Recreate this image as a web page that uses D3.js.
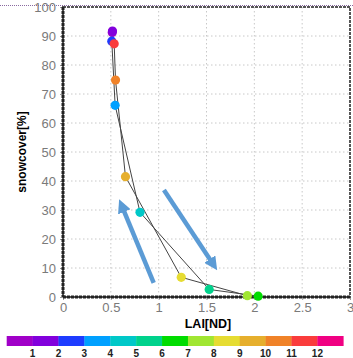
<!DOCTYPE html>
<html><head><meta charset="utf-8">
<script src="https://cdn.jsdelivr.net/npm/d3@7"></script>
<style>html,body{margin:0;padding:0;background:#fff;overflow:hidden}</style>
</head><body>
<svg id="c" width="353" height="358"></svg>
<script>
// Data (months 1..12)
const months = [1,2,3,4,5,6,7,8,9,10,11,12];
const lai  = [0.515,0.517,0.51,0.545,0.805,1.528,2.04,1.927,1.236,0.653,0.549,0.535];
const snow = [91.2,91.7,88.2,66.1,29.2,2.6,0.3,0.45,6.8,41.5,74.8,87.3];
const xTicks = [0,0.5,1,1.5,2,2.5,3];
const yTicks = [0,10,20,30,40,50,60,70,80,90,100];
const cbLabels = [1,2,3,4,5,6,7,8,9,10,11,12];
const cbColors = ["#a000c8","#8200dc","#1e3cff","#00a0ff","#00c8c8","#00d28c","#00dc00","#a0e632","#e6dc32","#e6af2d","#f08228","#fa3c3c","#f00082"];
// arrows: [x1,y1,x2,y2] in data units (tail -> tip)
const arrows = [[0.948,4.9,0.594,33.1],[1.055,36.9,1.601,9.7]];

const svg = d3.select("#c");
const L=63, R=350, T=7, B=297;
const x = d3.scaleLinear().domain([0,3]).range([L,R]);
const y = d3.scaleLinear().domain([0,100]).range([B,T]);
const colorOf = m => cbColors[m-1];

// top dotted purple line
svg.append("line").attr("x1",0).attr("x2",353).attr("y1",5.5).attr("y2",5.5)
  .attr("stroke","#8a6aa0").attr("stroke-width",1).attr("stroke-dasharray","1,1");

// grid
const g = svg.append("g");
g.selectAll(".gx").data(xTicks.filter(d=>d>0&&d<3)).join("line")
  .attr("x1",d=>x(d)).attr("x2",d=>x(d)).attr("y1",T).attr("y2",B)
  .attr("stroke","#c8c8c8").attr("stroke-width",1).attr("stroke-dasharray","1.5,2.5");
g.selectAll(".gy").data(yTicks.filter(d=>d>0&&d<100)).join("line")
  .attr("x1",L).attr("x2",R).attr("y1",d=>y(d)).attr("y2",d=>y(d))
  .attr("stroke","#c8c8c8").attr("stroke-width",1).attr("stroke-dasharray","1.5,2.5");

// axes
const xAxis = d3.axisBottom(x).tickValues(xTicks).tickSize(3).tickPadding(3).tickFormat(d3.format("~g"));
const yAxis = d3.axisLeft(y).tickValues(yTicks).tickSize(3).tickPadding(4);
const ax = svg.append("g").attr("transform",`translate(0,${B})`).call(xAxis);
const ay = svg.append("g").attr("transform",`translate(${L},0)`).call(yAxis);
[ax,ay].forEach(a=>{
  a.select(".domain").remove();
  a.selectAll(".tick line").attr("stroke","#999");
  a.selectAll("text").attr("fill","#7a7a7a").style("font-family","'Liberation Sans',Arial,sans-serif").style("font-size","13px");
});

// frame
svg.append("rect").attr("x",L).attr("y",T).attr("width",R-L).attr("height",B-T)
  .attr("fill","none").attr("stroke","#555").attr("stroke-width",2).attr("stroke-dasharray","3,1");
svg.append("line").attr("x1",L).attr("x2",L).attr("y1",T).attr("y2",B).attr("stroke","#222").attr("stroke-width",3).attr("stroke-dasharray","3,1");
svg.append("line").attr("x1",L).attr("x2",R).attr("y1",B).attr("y2",B).attr("stroke","#222").attr("stroke-width",3).attr("stroke-dasharray","3,1");

// loop line
const pts = months.map((m,i)=>[lai[i],snow[i]]);
const line = d3.line().x(d=>x(d[0])).y(d=>y(d[1])).curve(d3.curveLinearClosed);
svg.append("path").attr("d",line(pts)).attr("fill","none").attr("stroke","#444").attr("stroke-width",1);

// arrows
const defs = svg.append("defs");
defs.append("marker").attr("id","ah").attr("viewBox","0 0 10 10").attr("refX",2).attr("refY",5)
  .attr("markerWidth",3).attr("markerHeight",3).attr("orient","auto")
  .append("path").attr("d","M0,0L10,5L0,10z").attr("fill","#5b9bd5");
svg.selectAll(".arr").data(arrows).join("line")
  .attr("x1",d=>x(d[0])).attr("y1",d=>y(d[1]))
  .attr("x2",d=>{const dx=x(d[2])-x(d[0]),dy=y(d[3])-y(d[1]),l=Math.hypot(dx,dy);return x(d[2])-dx/l*9;})
  .attr("y2",d=>{const dx=x(d[2])-x(d[0]),dy=y(d[3])-y(d[1]),l=Math.hypot(dx,dy);return y(d[3])-dy/l*9;})
  .attr("stroke","#5b9bd5").attr("stroke-width",4.5).attr("marker-end","url(#ah)");

// points
svg.selectAll(".pt").data(months).join("circle")
  .attr("cx",(m,i)=>x(lai[i])).attr("cy",(m,i)=>y(snow[i])).attr("r",4.6)
  .attr("fill",m=>colorOf(m));

// axis titles
svg.append("text").attr("x",208).attr("y",327.5).attr("text-anchor","middle")
  .style("font-family","'Liberation Sans',Arial,sans-serif").style("font-weight","bold").style("font-size","12.5px").attr("fill","#000").text("LAI[ND]");
svg.append("text").attr("transform","translate(26,152) rotate(-90)").attr("text-anchor","middle")
  .style("font-family","'Liberation Sans',Arial,sans-serif").style("font-weight","bold").style("font-size","12px").attr("fill","#000").text("snowcover[%]");

// colorbar
const cb = d3.scaleLinear().domain([0,13]).range([6.7,343.3]);
svg.selectAll(".cbr").data(cbColors).join("rect")
  .attr("x",(c,i)=>cb(i)).attr("y",336).attr("width",(c,i)=>cb(i+1)-cb(i)+0.3).attr("height",10).attr("fill",c=>c);
svg.selectAll(".cbl").data(cbLabels).join("text")
  .attr("x",d=>cb(d)).attr("y",357).attr("text-anchor","middle")
  .style("font-family","'Liberation Sans',Arial,sans-serif").style("font-weight","bold").style("font-size","10px").attr("fill","#222").text(d=>d);
</script>
</body></html>
